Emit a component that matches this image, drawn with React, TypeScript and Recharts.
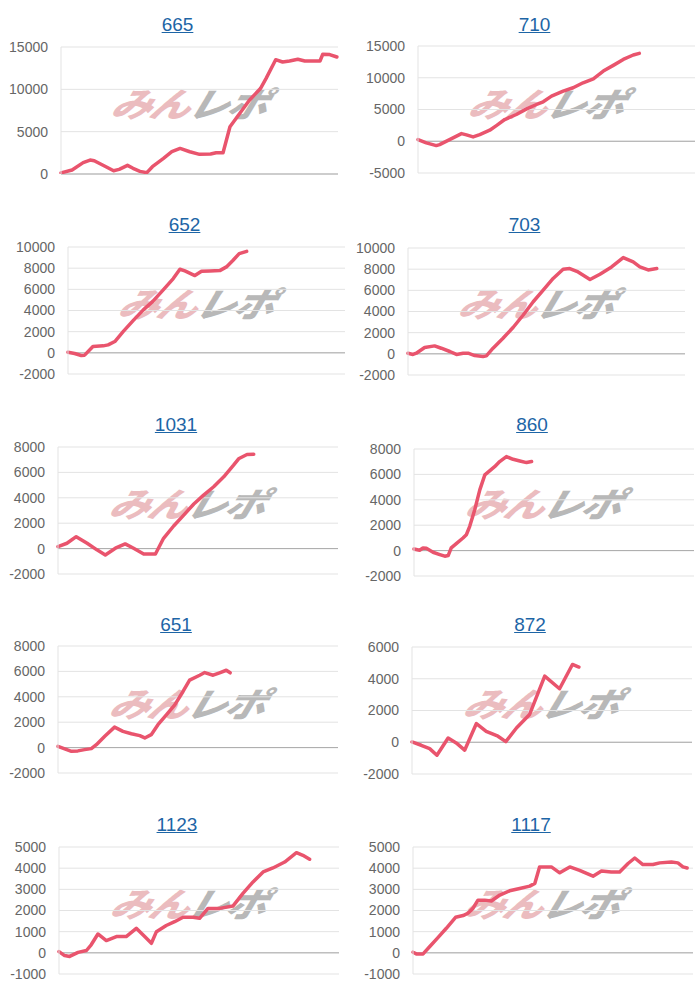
import React from 'react';
import { LineChart, Line, XAxis, YAxis, CartesianGrid, ReferenceLine } from 'recharts';

// ---- data: [period position (0-100), value] ----
const s665: [number, number][] = [[0,130],[4,470],[8,1340],[10.5,1650],[12,1570],[15,1060],[19,390],[21,550],[24,1020],[26,670],[28.5,310],[31,160],[33,860],[37,1850],[40,2630],[43,3020],[46.5,2630],[50,2320],[54,2360],[56,2510],[58.5,2510],[61,5580],[64.5,7150],[68,8720],[72,10090],[74,11270],[77.5,13500],[80,13230],[82.5,13350],[85.5,13550],[88,13350],[93.5,13350],[94.5,14140],[97,14100],[99.6,13820]];
const s710: [number, number][] = [[0,260],[3,-260],[6.6,-680],[7.8,-530],[11.4,260],[15.7,1210],[17.5,1000],[19.9,680],[22.3,1050],[25.9,1740],[28.3,2470],[31.3,3420],[35.5,4210],[39.2,5100],[42.8,5790],[45.2,6210],[48.2,7100],[52.4,7890],[56,8420],[59.6,9210],[63.3,9840],[66.9,11050],[70.5,11950],[74.1,12890],[77.7,13580],[79.9,13840]];
const s652: [number, number][] = [[0,60],[2.4,-60],[4.8,-250],[6,-220],[9,600],[12.7,660],[14.5,750],[16.9,1070],[19.9,2000],[23.5,3040],[27.1,4040],[30.7,4890],[34.3,5920],[38,7020],[40.4,7900],[42.2,7740],[45.8,7300],[48.2,7710],[51.2,7740],[54.8,7770],[57.2,8120],[59.6,8750],[61.8,9370],[64.5,9590]];
const s703: [number, number][] = [[0,60],[1.8,-60],[3,60],[6,600],[9.6,750],[12,530],[15.1,220],[17.5,-60],[19.9,60],[21.7,60],[24.1,-160],[27.1,-250],[28.3,-190],[30.7,530],[34.3,1470],[38,2510],[41.6,3670],[45.2,4920],[48.8,6020],[52.4,7120],[56,7990],[58.4,8060],[61.4,7740],[65.7,7020],[69.3,7520],[73.5,8210],[77.7,9090],[81.3,8680],[83.7,8210],[86.7,7930],[89.8,8060]];
const s1031: [number, number][] = [[0,160],[3.2,420],[6.5,940],[10.4,420],[13.9,-100],[16.9,-500],[20.5,30],[24,370],[27,30],[30.6,-420],[34.8,-420],[37.7,810],[41.3,1780],[44.9,2640],[48.5,3510],[52,4210],[55.6,4870],[59.2,5650],[62.7,6570],[64.5,7070],[67.5,7410],[69.9,7430]];
const s860: [number, number][] = [[0,130],[2,30],[3.2,210],[4.4,180],[6.8,-130],[9.2,-310],[11,-440],[12.2,-390],[13.3,210],[15.1,550],[17.5,990],[18.7,1250],[19.9,1910],[21.7,3220],[23.5,4780],[25.3,5960],[27.1,6300],[28.8,6610],[30.6,7010],[33,7400],[35.4,7190],[37.8,7060],[40.2,6930],[42,7010]];
const s651: [number, number][] = [[0,100],[2.4,-100],[4.8,-290],[7.1,-260],[9.5,-160],[11.9,-80],[13.7,230],[16.7,890],[20.2,1610],[23.2,1280],[26.2,1090],[29.2,940],[31,760],[33.3,1020],[35.7,1800],[38.7,2580],[41.7,3360],[44.6,4400],[47,5310],[50.6,5700],[52.4,5910],[55.4,5700],[57.7,5890],[60.1,6090],[61.5,5890]];
const s872: [number, number][] = [[0,20],[3.3,-190],[6.3,-400],[8.9,-820],[12.9,270],[15.8,-40],[18.8,-500],[23,1180],[26.5,690],[30.7,380],[33.5,40],[37.3,900],[42,1750],[47.4,4170],[52.7,3370],[57.3,4900],[59.6,4740]];
const s1123: [number, number][] = [[0,60],[2,-130],[3.8,-170],[6.8,20],[9.8,110],[11.5,380],[13.9,890],[16.9,580],[20.5,770],[24,770],[27.6,1160],[30.6,770],[33,450],[34.8,1000],[38.3,1290],[41.3,1470],[44.3,1680],[47.9,1680],[50.2,1630],[53.2,2100],[57.4,2100],[62.1,2210],[65.7,2810],[69.3,3350],[72.9,3820],[76.4,4010],[80.6,4290],[84.8,4730],[87.1,4610],[89.5,4420]];
const s1117: [number, number][] = [[0,30],[1.2,-50],[3.6,-50],[6,300],[8.9,720],[11.9,1160],[15.2,1680],[17.9,1760],[19.6,1870],[21.4,2100],[23.2,2490],[25.6,2490],[28,2450],[31,2730],[34.5,2930],[38.1,3040],[41.7,3150],[43.5,3280],[45.2,4060],[49.4,4060],[52.4,3780],[56,4060],[59.5,3900],[64.3,3620],[67.3,3870],[70.8,3820],[73.8,3820],[76.8,4220],[79.2,4480],[82.1,4170],[85.7,4170],[88.1,4250],[92.3,4290],[94.6,4250],[96.4,4060],[97.9,4010]];

const titles = ['665', '710', '652', '703', '1031', '860', '651', '872', '1123', '1117'];
const seriesList = [s665, s710, s652, s703, s1031, s860, s651, s872, s1123, s1117];

const ticks15k = [0, 5000, 10000, 15000];
const ticks710 = [-5000, 0, 5000, 10000, 15000];
const ticks10k = [-2000, 0, 2000, 4000, 6000, 8000, 10000];
const ticks8k = [-2000, 0, 2000, 4000, 6000, 8000];
const ticks6k = [-2000, 0, 2000, 4000, 6000];
const ticks5k = [-1000, 0, 1000, 2000, 3000, 4000, 5000];
const tickList = [ticks15k, ticks710, ticks10k, ticks10k, ticks8k, ticks8k, ticks8k, ticks6k, ticks5k, ticks5k];

// ---- layout (plot box inside each 350x200 cell) ----
const plotLeft = [61, 68, 68, 58, 58, 64, 58, 62, 59, 63];
const plotRight = [338, 345, 345, 335, 338, 344, 338, 342, 339, 343];
const plotTop = [47, 46, 47, 48, 47, 49, 46, 47, 47, 47];
const plotBottom = [174, 173, 174, 175, 174, 176, 173, 174, 174, 174];

const LINE_COLOR = '#e9546d';
const FONT = '"Liberation Sans", Arial, sans-serif';

function Watermark({ cx, top }: { cx: number; top: number }) {
  return (
    <div
      style={{
        position: 'absolute',
        left: cx - 90,
        top,
        width: 180,
        height: 34,
        fontFamily: '"Noto Sans CJK JP", sans-serif',
        fontWeight: 900,
        fontStyle: 'italic',
        fontSize: 34,
        lineHeight: '34px',
        whiteSpace: 'nowrap',
        textAlign: 'center',
        transform: 'scaleX(1.2) skewX(-14deg)',
        letterSpacing: -2,
        pointerEvents: 'none',
      }}
    >
      <span style={{ color: '#ebbcbf' }}>みん</span>
      <span style={{ color: '#b8b8b8' }}>レポ</span>
    </div>
  );
}

function Panel({ i }: { i: number }) {
  const col = i % 2;
  const row = Math.floor(i / 2);
  const ticks = tickList[i];
  const data = seriesList[i].map(([x, y]) => ({ x, y }));
  const left = plotLeft[i];
  const right = plotRight[i];
  const center = (left + right) / 2;
  return (
    <div style={{ position: 'absolute', left: col * 350, top: row * 200, width: 350, height: 200 }}>
      <div
        style={{
          position: 'absolute',
          left: center - 22 - 60,
          width: 120,
          top: 14,
          textAlign: 'center',
          fontFamily: FONT,
          fontSize: 19,
          lineHeight: '22px',
          color: '#1d65a6',
          textDecoration: 'underline',
        }}
      >
        {titles[i]}
      </div>
      <Watermark cx={center - 10} top={86} />
      <div style={{ position: 'absolute', left: 0, top: 0 }}>
        <LineChart
          width={350}
          height={200}
          data={data}
          margin={{ top: plotTop[i], right: 350 - right, bottom: 200 - plotBottom[i], left: 0 }}
        >
          <CartesianGrid vertical={false} stroke="#e3e3e3" strokeWidth={1} />
          <XAxis dataKey="x" type="number" domain={[0, 100]} hide />
          <YAxis
            type="number"
            width={left}
            domain={[ticks[0], ticks[ticks.length - 1]]}
            ticks={ticks}
            interval={0}
            allowDataOverflow
            tickLine={false}
            tickSize={0}
            tickMargin={13}
            axisLine={{ stroke: '#e3e3e3' }}
            tick={{ fill: '#666666', fontSize: 14, fontFamily: FONT }}
          />
          <ReferenceLine y={0} stroke="#a9a9a9" strokeWidth={1} />
          <Line
            type="linear"
            dataKey="y"
            stroke={LINE_COLOR}
            strokeWidth={3.5}
            strokeLinejoin="round"
            strokeLinecap="round"
            dot={false}
            isAnimationActive={false}
          />
        </LineChart>
      </div>
    </div>
  );
}

export default function App() {
  return (
    <div style={{ position: 'absolute', left: 0, top: 0, width: 700, height: 1000, background: '#ffffff' }}>
      {titles.map((_, i) => (
        <Panel key={i} i={i} />
      ))}
    </div>
  );
}
